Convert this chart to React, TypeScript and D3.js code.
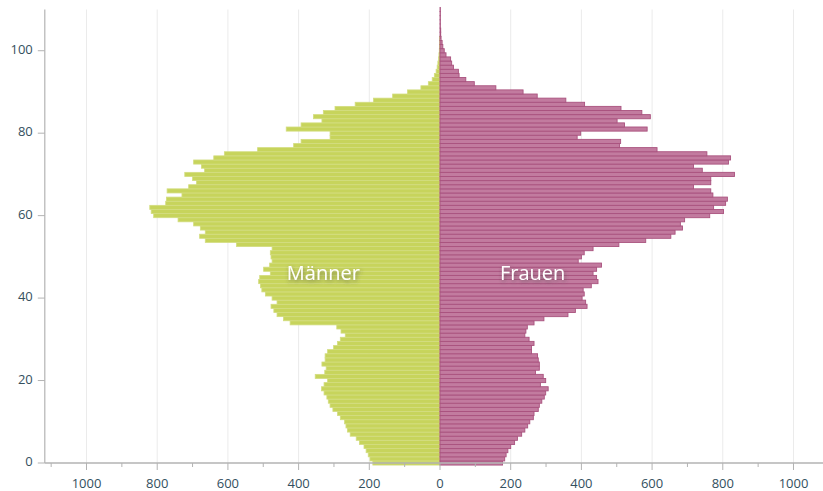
import React from 'react'
import * as d3 from 'd3'

// population by single year of age (0..110)
const ages = d3.range(0, 111)

const maleValues = [
  190, 198, 203, 209, 215, 228, 237, 254, 262, 266,
  270, 282, 290, 303, 311, 316, 320, 328, 335, 328,
  318, 353, 326, 322, 334, 325, 325, 318, 301, 290,
  282, 268, 280, 292, 424, 443, 461, 470, 478, 461,
  475, 494, 504, 508, 513, 510, 480, 499, 482, 475,
  478, 480, 475, 576, 664, 680, 664, 678, 697, 741,
  810, 817, 821, 776, 774, 730, 772, 711, 689, 700,
  722, 666, 675, 697, 640, 610, 516, 414, 393, 311,
  311, 435, 393, 334, 358, 330, 297, 240, 188, 134,
  92, 54, 33, 22, 16, 11, 8, 6, 4, 3,
  2, 1.5, 1, 1, 0, 0, 0, 0, 0, 0, 0,
]

const femaleValues = [
  177, 183, 187, 192, 200, 211, 219, 231, 240, 248,
  254, 264, 266, 278, 281, 288, 295, 299, 306, 284,
  299, 292, 270, 281, 281, 278, 276, 259, 259, 266,
  252, 240, 243, 247, 266, 294, 362, 383, 416, 412,
  402, 408, 405, 428, 447, 443, 433, 443, 457, 391,
  400, 408, 433, 506, 582, 653, 665, 686, 680, 692,
  763, 802, 774, 808, 813, 772, 766, 717, 766, 766,
  833, 742, 717, 816, 822, 755, 614, 508, 511, 388,
  398, 586, 522, 501, 595, 571, 512, 409, 356, 275,
  235, 158, 97, 73, 54, 52, 38, 33, 30, 17,
  12, 8, 6, 3, 2, 2, 1, 1, 1, 1, 1,
]

const yTicks = [0, 20, 40, 60, 80, 100]
const xMajorTicks = [-1000, -800, -600, -400, -200, 0, 200, 400, 600, 800, 1000]
const xMinorTicks = [-1100, -900, -700, -500, -300, -100, 100, 300, 500, 700, 900]
const seriesLabels = ['Männer', 'Frauen']

const W = 823
const H = 491
const labelColor = '#34505e'
const axisColor = '#b3b3b3'
const gridColor = '#ebebeb'
const font = '"Open Sans", "DejaVu Sans", sans-serif'

export default function App() {
  const x = d3.scaleLinear().domain([-1118, 1118]).range([44.8, 835.2])
  const y = d3.scaleLinear().domain([0, 110]).range([463, 9.5])
  const x0 = x(0)
  const bandTop = (a: number) => y(a + 0.5)
  const bandH = (a: number) => y(a - 0.5) - y(a + 0.5)

  return (
    <svg width={W} height={H} style={{ position: 'absolute', left: 0, top: 0, fontFamily: font }}>
      <defs>
        <filter id="shadow" x="-20%" y="-40%" width="140%" height="180%">
          <feDropShadow dx="1" dy="2" stdDeviation="2" floodColor="#444" floodOpacity="0.6" />
        </filter>
      </defs>

      {/* grid */}
      <g>
        {xMajorTicks.filter(t => t !== 0).map(t => (
          <line key={t} x1={x(t)} x2={x(t)} y1={y(110)} y2={y(0)} stroke={gridColor} strokeWidth={1} />
        ))}
      </g>

      {/* bars */}
      <g>
        {ages.map(a => maleValues[a] > 0 && (
          <rect key={'m' + a} x={x(-maleValues[a])} y={bandTop(a)} width={x0 - x(-maleValues[a])}
            height={bandH(a)} fill="#c7d45c" stroke="#d3dd80" strokeWidth={0.8} />
        ))}
        {ages.map(a => (
          <rect key={'f' + a} x={x0} y={bandTop(a)} width={x(femaleValues[a]) - x0}
            height={bandH(a)} fill="#c27b9f" stroke="#a9527e" strokeWidth={0.9} />
        ))}
      </g>

      {/* series labels */}
      <g fill="#fff" fontSize={20} textAnchor="middle" filter="url(#shadow)">
        <text x={x(-330)} y={279.5}>{seriesLabels[0]}</text>
        <text x={x(262)} y={279.5}>{seriesLabels[1]}</text>
      </g>

      {/* y axis */}
      <g>
        <line x1={x.range()[0]} x2={x.range()[0]} y1={y(110)} y2={y(0)} stroke={axisColor} strokeWidth={1.2} />
        {yTicks.map(t => (
          <g key={t} transform={`translate(${x.range()[0]},${y(t)})`}>
            <line x1={-7} x2={0} stroke={axisColor} />
            <text x={-12} dy={3} textAnchor="end" fontSize={13} fill={labelColor}>{t}</text>
          </g>
        ))}
      </g>

      {/* x axis */}
      <g transform={`translate(0,${y(0)})`}>
        <line x1={x.range()[0]} x2={W} stroke={axisColor} strokeWidth={1.5} />
        {xMinorTicks.map(t => (
          <line key={t} x1={x(t)} x2={x(t)} y1={0} y2={4} stroke={axisColor} />
        ))}
        {xMajorTicks.map(t => (
          <g key={t} transform={`translate(${x(t)},0)`}>
            <line y1={0} y2={7} stroke={axisColor} />
            <text y={25} textAnchor="middle" fontSize={13} fill={labelColor}>{Math.abs(t)}</text>
          </g>
        ))}
      </g>
    </svg>
  )
}
